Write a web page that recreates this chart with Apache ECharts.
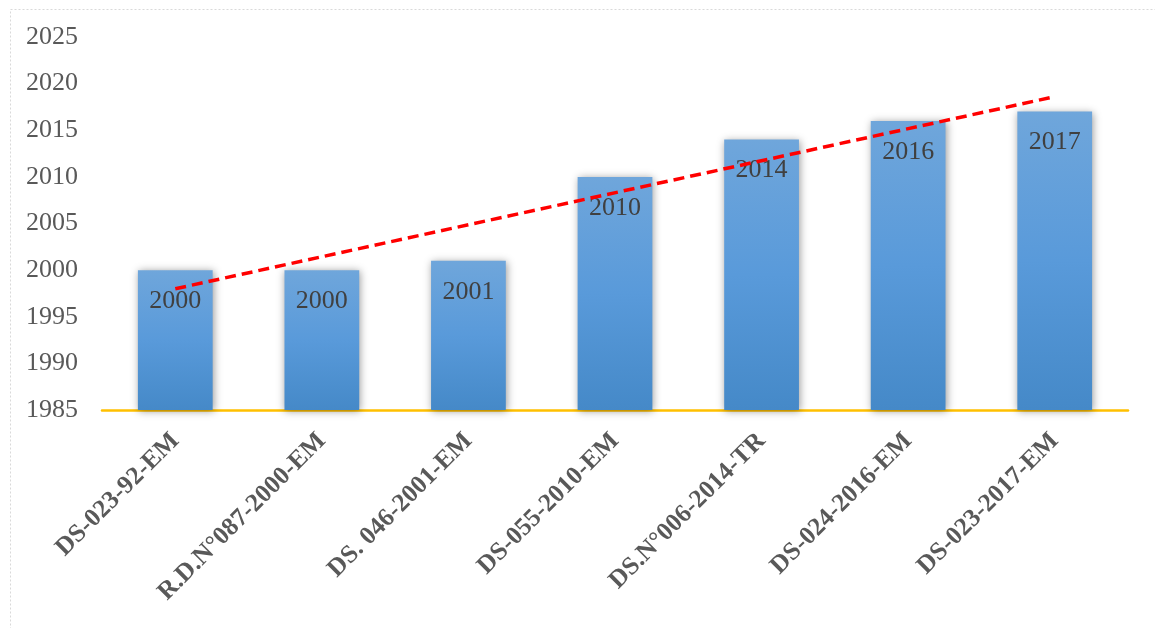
<!DOCTYPE html>
<html>
<head>
<meta charset="utf-8">
<script src="https://cdn.jsdelivr.net/npm/echarts@6/dist/echarts.min.js"></script>
<style>
  html, body { margin: 0; padding: 0; background: #ffffff; }
  #chart { width: 1155px; height: 628px; }
</style>
</head>
<body>
<div id="chart"></div>
<script>
// Decree codes and the year of each one
const categories = [
  'DS-023-92-EM',
  'R.D.N°087-2000-EM',
  'DS. 046-2001-EM',
  'DS-055-2010-EM',
  'DS.N°006-2014-TR',
  'DS-024-2016-EM',
  'DS-023-2017-EM'
];
const years = [2000, 2000, 2001, 2010, 2014, 2016, 2017];

// Linear trend: value at the first and at the last category
const trendEnds = [1998.0, 2018.6];

// Y axis range
const yMin = 1985;
const yMax = 2025;
const yStep = 5;

const trendData = categories.map((c, i) =>
  i === 0 ? trendEnds[0] : (i === categories.length - 1 ? trendEnds[1] : null));

const serif = '"Liberation Serif", "Times New Roman", serif';

const chart = echarts.init(document.getElementById('chart'), null, { renderer: 'canvas' });

chart.setOption({
  animation: false,
  backgroundColor: '#ffffff',
  graphic: [{
    type: 'rect',
    left: 8, top: 7,
    shape: { width: 1300, height: 800 },
    style: { fill: 'none', stroke: '#d9d9d9', lineWidth: 1, lineDash: [2, 2] },
    silent: true,
    z: -1
  }],
  grid: { left: 102, right: 27, top: 37, bottom: 218, containLabel: false },
  xAxis: {
    type: 'category',
    data: categories,
    axisLine: { show: true, lineStyle: { color: '#FFC000', width: 2.5 } },
    axisTick: { show: false },
    axisLabel: {
      rotate: 45,
      interval: 0,
      margin: 27,
      color: '#595959',
      fontFamily: serif,
      fontWeight: 'bold',
      fontSize: 25.5
    }
  },
  yAxis: {
    type: 'value',
    min: yMin,
    max: yMax,
    interval: yStep,
    axisLine: { show: false },
    axisTick: { show: false },
    splitLine: { show: false },
    axisLabel: {
      margin: 24,
      color: '#595959',
      fontFamily: serif,
      fontSize: 26,
      formatter: (v) => String(v)
    }
  },
  series: [
    {
      type: 'bar',
      data: years,
      barWidth: '51%',
      itemStyle: {
        color: new echarts.graphic.LinearGradient(0, 0, 0, 1, [
          { offset: 0, color: '#6FA6DB' },
          { offset: 0.5, color: '#599ADA' },
          { offset: 1, color: '#4589C8' }
        ]),
        shadowColor: 'rgba(0,0,0,0.4)',
        shadowBlur: 8,
        shadowOffsetX: 1,
        shadowOffsetY: 1
      },
      label: {
        show: true,
        position: 'insideTop',
        distance: 18,
        color: '#404040',
        fontFamily: serif,
        fontSize: 26,
        formatter: (p) => String(p.value)
      },
      z: 2
    },
    {
      type: 'line',
      data: trendData,
      connectNulls: true,
      symbol: 'none',
      lineStyle: { color: '#FF0000', width: 3.5, type: [11, 6] },
      z: 5
    }
  ]
});
</script>
</body>
</html>
